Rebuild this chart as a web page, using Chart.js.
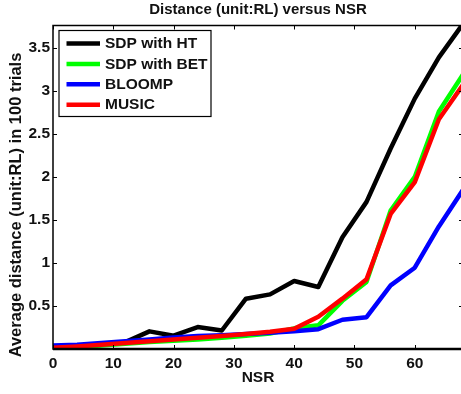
<!DOCTYPE html>
<html>
<head>
<meta charset="utf-8">
<script src="https://cdn.jsdelivr.net/npm/chart.js@4/dist/chart.umd.min.js"></script>
<style>
  html, body { margin: 0; padding: 0; background: #fff; overflow: hidden; }
  canvas { display: block; }
</style>
</head>
<body>
<canvas id="distChart" width="464" height="394"></canvas>
<script>
// values
const nsr = [0, 4, 8, 12, 16, 20, 24, 28, 32, 36, 40, 44, 48, 52, 56, 60, 64, 68];
const sdpHT = [0.01, 0.03, 0.05, 0.08, 0.205, 0.155, 0.255, 0.215, 0.585, 0.635, 0.79, 0.72, 1.30, 1.71, 2.33, 2.91, 3.39, 3.78];
const sdpBET = [0.01, 0.025, 0.04, 0.06, 0.08, 0.095, 0.11, 0.13, 0.155, 0.18, 0.24, 0.275, 0.56, 0.78, 1.61, 2.0, 2.76, 3.19];
const bloomp = [0.04, 0.05, 0.07, 0.09, 0.11, 0.135, 0.15, 0.16, 0.175, 0.19, 0.205, 0.23, 0.34, 0.37, 0.74, 0.945, 1.425, 1.85];
const music = [0.015, 0.03, 0.05, 0.07, 0.09, 0.11, 0.13, 0.15, 0.175, 0.2, 0.235, 0.375, 0.585, 0.81, 1.57, 1.94, 2.67, 3.07];
const xTicks = [0, 10, 20, 30, 40, 50, 60];
const yTicks = [0.5, 1, 1.5, 2, 2.5, 3, 3.5];
const titleText = "Distance (unit:RL) versus NSR";
const yLabel = "Average distance (unit:RL) in 100 trials";

const FONT = "'Liberation Sans', Arial, Helvetica, sans-serif";

function pts(ys) {
  return nsr.map((v, i) => ({ x: v, y: ys[i] }));
}

// axes box with inward ticks, like matlab
const framePlugin = {
  id: "frame",
  afterDraw(chart) {
    const { ctx, chartArea: a, scales } = chart;
    const x = scales.x, y = scales.y;
    ctx.save();
    ctx.strokeStyle = "#000";
    ctx.lineWidth = 1;
    ctx.beginPath();
    x.ticks.forEach((t) => {
      const px = Math.round(x.getPixelForValue(t.value)) + 0.5;
      ctx.moveTo(px, a.bottom); ctx.lineTo(px, a.bottom - 4);
      ctx.moveTo(px, a.top); ctx.lineTo(px, a.top + 4);
    });
    y.ticks.forEach((t) => {
      const py = Math.round(y.getPixelForValue(t.value)) + 0.5;
      ctx.moveTo(a.left, py); ctx.lineTo(a.left + 4, py);
      ctx.moveTo(a.right, py); ctx.lineTo(a.right - 4, py);
    });
    ctx.stroke();
    ctx.lineWidth = 1.5;
    ctx.strokeRect(a.left, a.top, a.right - a.left, a.bottom - a.top);
    ctx.lineWidth = 2.5;
    ctx.beginPath();
    ctx.moveTo(a.left, a.bottom); ctx.lineTo(a.right, a.bottom);
    ctx.stroke();

    ctx.fillStyle = "#111";
    ctx.textAlign = "center";
    ctx.textBaseline = "middle";

    // title is centred over the axes, not the whole figure
    ctx.font = "bold 15px " + FONT;
    ctx.fillText(titleText, (a.left + a.right) / 2, 10);

    // y axis label, sits a bit below the middle in the original
    ctx.save();
    ctx.translate(16, 205);
    ctx.rotate(-Math.PI / 2);
    ctx.font = "bold 16.5px " + FONT;
    ctx.fillText(yLabel, 0, 0);
    ctx.restore();

    // legend box in the upper left corner
    const bx = a.left + 6, by = a.top + 5, bw = 152, bh = 86;
    ctx.fillStyle = "#fff";
    ctx.fillRect(bx, by, bw, bh);
    ctx.strokeStyle = "#000";
    ctx.lineWidth = 1.2;
    ctx.strokeRect(bx, by, bw, bh);
    ctx.font = "bold 15.5px " + FONT;
    ctx.textAlign = "left";
    chart.data.datasets.forEach((ds, i) => {
      const ry = by + 13 + i * 20.4;
      ctx.strokeStyle = ds.borderColor;
      ctx.lineWidth = 4.5;
      ctx.beginPath();
      ctx.moveTo(bx + 7.5, ry); ctx.lineTo(bx + 41, ry);
      ctx.stroke();
      ctx.fillStyle = "#111";
      ctx.fillText(ds.label, bx + 46, ry + 0.5);
    });
    ctx.restore();
  }
};

const ctx = document.getElementById("distChart").getContext("2d");

const myChart = new Chart(ctx, {
  type: "line",
  data: {
    datasets: [
      { label: "SDP with HT", data: pts(sdpHT), borderColor: "#000000", order: 4 },
      { label: "SDP with BET", data: pts(sdpBET), borderColor: "#00ff00", order: 3 },
      { label: "BLOOMP", data: pts(bloomp), borderColor: "#0000ff", order: 2 },
      { label: "MUSIC", data: pts(music), borderColor: "#ff0000", order: 1 },
    ],
  },
  options: {
    responsive: false,
    animation: false,
    layout: { padding: { left: 0, right: 1, top: 25.5, bottom: 0 } },
    elements: {
      line: { borderWidth: 4.5, tension: 0, fill: false, borderJoinStyle: "round" },
      point: { radius: 0 },
    },
    plugins: {
      legend: { display: false },
      tooltip: { enabled: false },
      title: { display: false },
    },
    scales: {
      x: {
        type: "linear",
        min: 0,
        max: 68,
        afterBuildTicks: (s) => { s.ticks = xTicks.map((v) => ({ value: v })); },
        afterFit: (s) => { s.height = 45; },
        grid: { drawOnChartArea: false, drawTicks: false },
        border: { display: false },
        ticks: {
          color: "#111",
          padding: 5,
          font: { family: FONT, size: 15.5, weight: "bold" },
          callback: (v) => String(v),
        },
        title: {
          display: true,
          text: "NSR",
          color: "#111",
          font: { family: FONT, size: 15.5, weight: "bold" },
          padding: { top: 0, bottom: 7 },
        },
      },
      y: {
        min: 0,
        max: 3.76,
        afterBuildTicks: (s) => { s.ticks = yTicks.map((v) => ({ value: v })); },
        afterFit: (s) => { s.width = 53; },
        grid: { drawOnChartArea: false, drawTicks: false },
        border: { display: false },
        ticks: {
          color: "#111",
          padding: 3,
          font: { family: FONT, size: 15.5, weight: "bold" },
          callback: (v) => String(v),
        },
      },
    },
  },
  plugins: [framePlugin],
});
</script>
</body>
</html>
